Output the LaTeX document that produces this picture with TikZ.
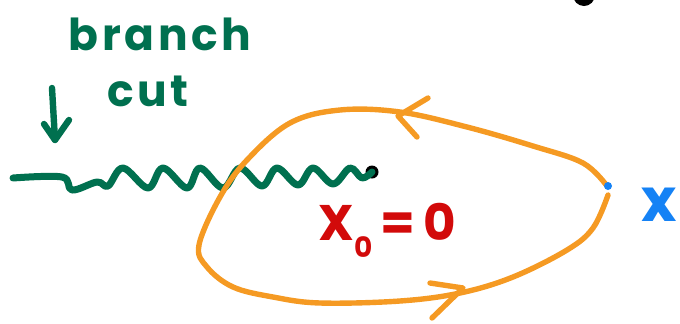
\documentclass[tikz,border=0pt]{standalone}
\usepackage{fontspec}
\setmainfont{Poppins}
\definecolor{cutgreen}{HTML}{00704F}
\definecolor{looporange}{HTML}{F59A23}
\definecolor{labelred}{HTML}{D20A0A}
\definecolor{pointblue}{HTML}{1582F5}
\begin{document}
\begin{tikzpicture}[x=0.5pt,y=-0.5pt, line cap=round, line join=round,
  greenline/.style={draw=cutgreen, line width=3.2pt},
  orangeline/.style={draw=looporange, line width=2.7pt},
  dotnode/.style={circle, inner sep=0pt, fill=#1}]
\useasboundingbox (0,0) rectangle (680,323);
% top black dot (cut off)
\node[dotnode=black, minimum size=11pt] (topdot) at (584,-5) {};
% labels
\node[text=cutgreen, font=\fontsize{22}{22}\selectfont\bfseries\addfontfeatures{LetterSpace=8}, anchor=base] (branch) at (160,50) {branch};
\node[text=cutgreen, font=\fontsize{22}{22}\selectfont\bfseries\addfontfeatures{LetterSpace=8}, anchor=base] (cut) at (148,106) {cut};
\node[text=labelred, font=\fontsize{25}{25}\selectfont\bfseries, anchor=base west, inner sep=0pt] (xzero) at (318,240) {X\raisebox{-0.35em}{\fontsize{14}{14}\selectfont\bfseries 0}\,=\,0};
\node[text=pointblue, font=\fontsize{30}{30}\selectfont\bfseries, anchor=base, inner sep=0pt] (xlab) at (659,221) {x};
% branch cut arrow
\coordinate (arrtop) at (52,88);
\coordinate (arrtip) at (55,140);
\draw[greenline] (arrtop) -- (arrtip);
\draw[greenline] (44,124) -- (arrtip) -- (69,120);
% branch point
\node[dotnode=black, minimum size=6.5pt] (bp) at (372,172) {};
\coordinate (cutstart) at (13,178);
% wavy branch cut
\draw[greenline, line width=3.5pt] plot[smooth, tension=0.6] coordinates {
 (cutstart) (62,177) (72,190) (97,182) (108,186) (123,168) (148,188) (163,168)
 (187,188) (200,168) (223,188) (240,168) (262,186) (277,168) (298,185)
 (313,168) (333,184) (350,168) (362,178) (bp)};
% orange contour
\draw[orangeline] plot[smooth, tension=0.6] coordinates {
 (607,186) (583,163) (533,146) (467,127) (400,112) (340,110) (290,123)
 (247,160) (220,197) (199,245) (207,267) (233,287) (273,297) (320,303)
 (400,301) (460,293) (513,277) (567,250) (593,228) (608,195)};
\draw[orangeline] (428,98) -- (398,116) -- (417,137);
\draw[orangeline] (430,283) -- (463,288) -- (432,318);
% point x
\node[dotnode=pointblue, minimum size=4pt] (xpt) at (608,186) {};
\end{tikzpicture}
\end{document}
